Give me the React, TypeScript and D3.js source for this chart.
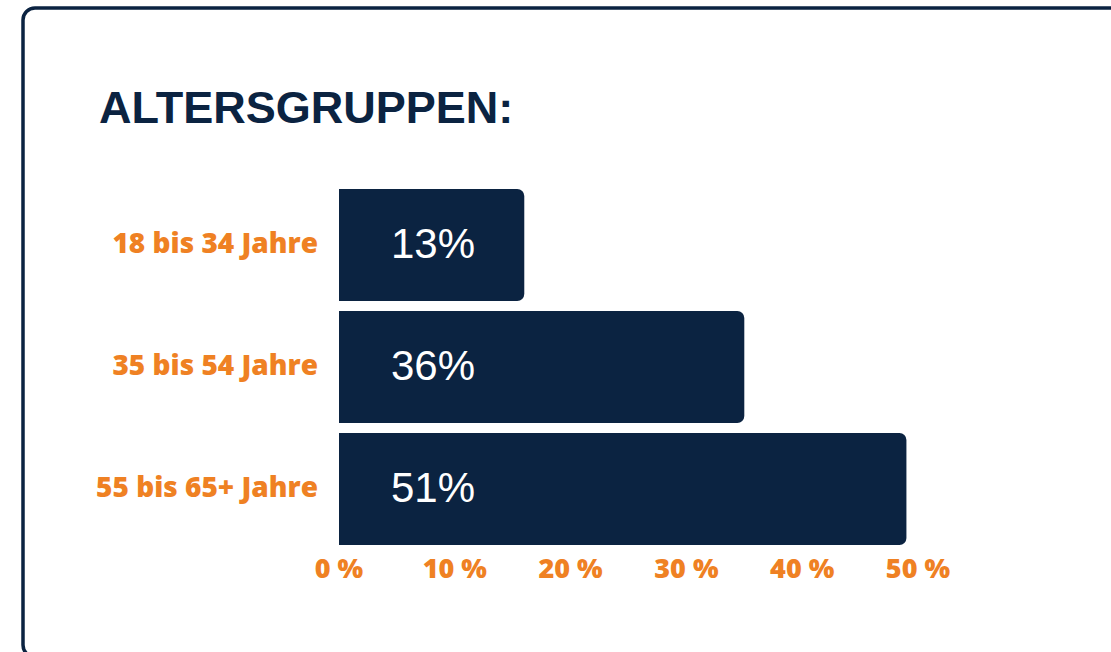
import React from "react";
import * as d3 from "d3";

const categories = ["18 bis 34 Jahre", "35 bis 54 Jahre", "55 bis 65+ Jahre"];
const barValues = [16, 35, 49];
const valueLabels = ["13%", "36%", "51%"];
const tickValues = [0, 10, 20, 30, 40, 50];
const title = "ALTERSGRUPPEN:";

const W = 1111;
const H = 652;
const NAVY = "#0b2341";
const ORANGE = "#ef8123";

export default function App() {
  const x = d3.scaleLinear().domain([0, 50]).range([339, 918]);
  const y = d3
    .scaleBand<string>()
    .domain(categories)
    .range([184, 550])
    .paddingInner(0.082)
    .paddingOuter(0.041);
  const r = 7;

  const barPath = (v: number, c: string) => {
    const x0 = x(0);
    const x1 = x(v);
    const y0 = y(c) as number;
    const y1 = y0 + y.bandwidth();
    const p = d3.path();
    p.moveTo(x0, y0);
    p.lineTo(x1 - r, y0);
    p.arcTo(x1, y0, x1, y0 + r, r);
    p.lineTo(x1, y1 - r);
    p.arcTo(x1, y1, x1 - r, y1, r);
    p.lineTo(x0, y1);
    p.closePath();
    return p.toString();
  };

  return (
    <svg
      width={W}
      height={H}
      style={{ position: "absolute", left: 0, top: 0, background: "#fff" }}
    >
      <rect
        x={23}
        y={8}
        width={1110}
        height={649}
        rx={12}
        ry={12}
        fill="#fff"
        stroke={NAVY}
        strokeWidth={3.5}
      />
      <text
        x={99}
        y={123}
        fontFamily="'Liberation Sans', Arial, sans-serif"
        fontWeight={700}
        fontSize={45}
        fill={NAVY}
      >
        {title}
      </text>
      {categories.map((c, i) => {
        const cy = (y(c) as number) + y.bandwidth() / 2;
        return (
          <g key={c}>
            <path d={barPath(barValues[i], c)} fill={NAVY} />
            <text
              x={318}
              y={cy + 7.5}
              textAnchor="end"
              fontFamily="'Open Sans', sans-serif"
              fontWeight={800}
              fontSize={28}
              fill={ORANGE}
            >
              {c}
            </text>
            <text
              x={x(0) + 52}
              y={cy + 12.5}
              fontFamily="'Liberation Sans', Arial, sans-serif"
              fontSize={42}
              fill="#ffffff"
            >
              {valueLabels[i]}
            </text>
          </g>
        );
      })}
      {tickValues.map((t) => (
        <text
          key={t}
          x={x(t)}
          y={578}
          textAnchor="middle"
          fontFamily="'Open Sans', sans-serif"
          fontWeight={800}
          fontSize={27}
          fill={ORANGE}
        >
          {`${t} %`}
        </text>
      ))}
    </svg>
  );
}
